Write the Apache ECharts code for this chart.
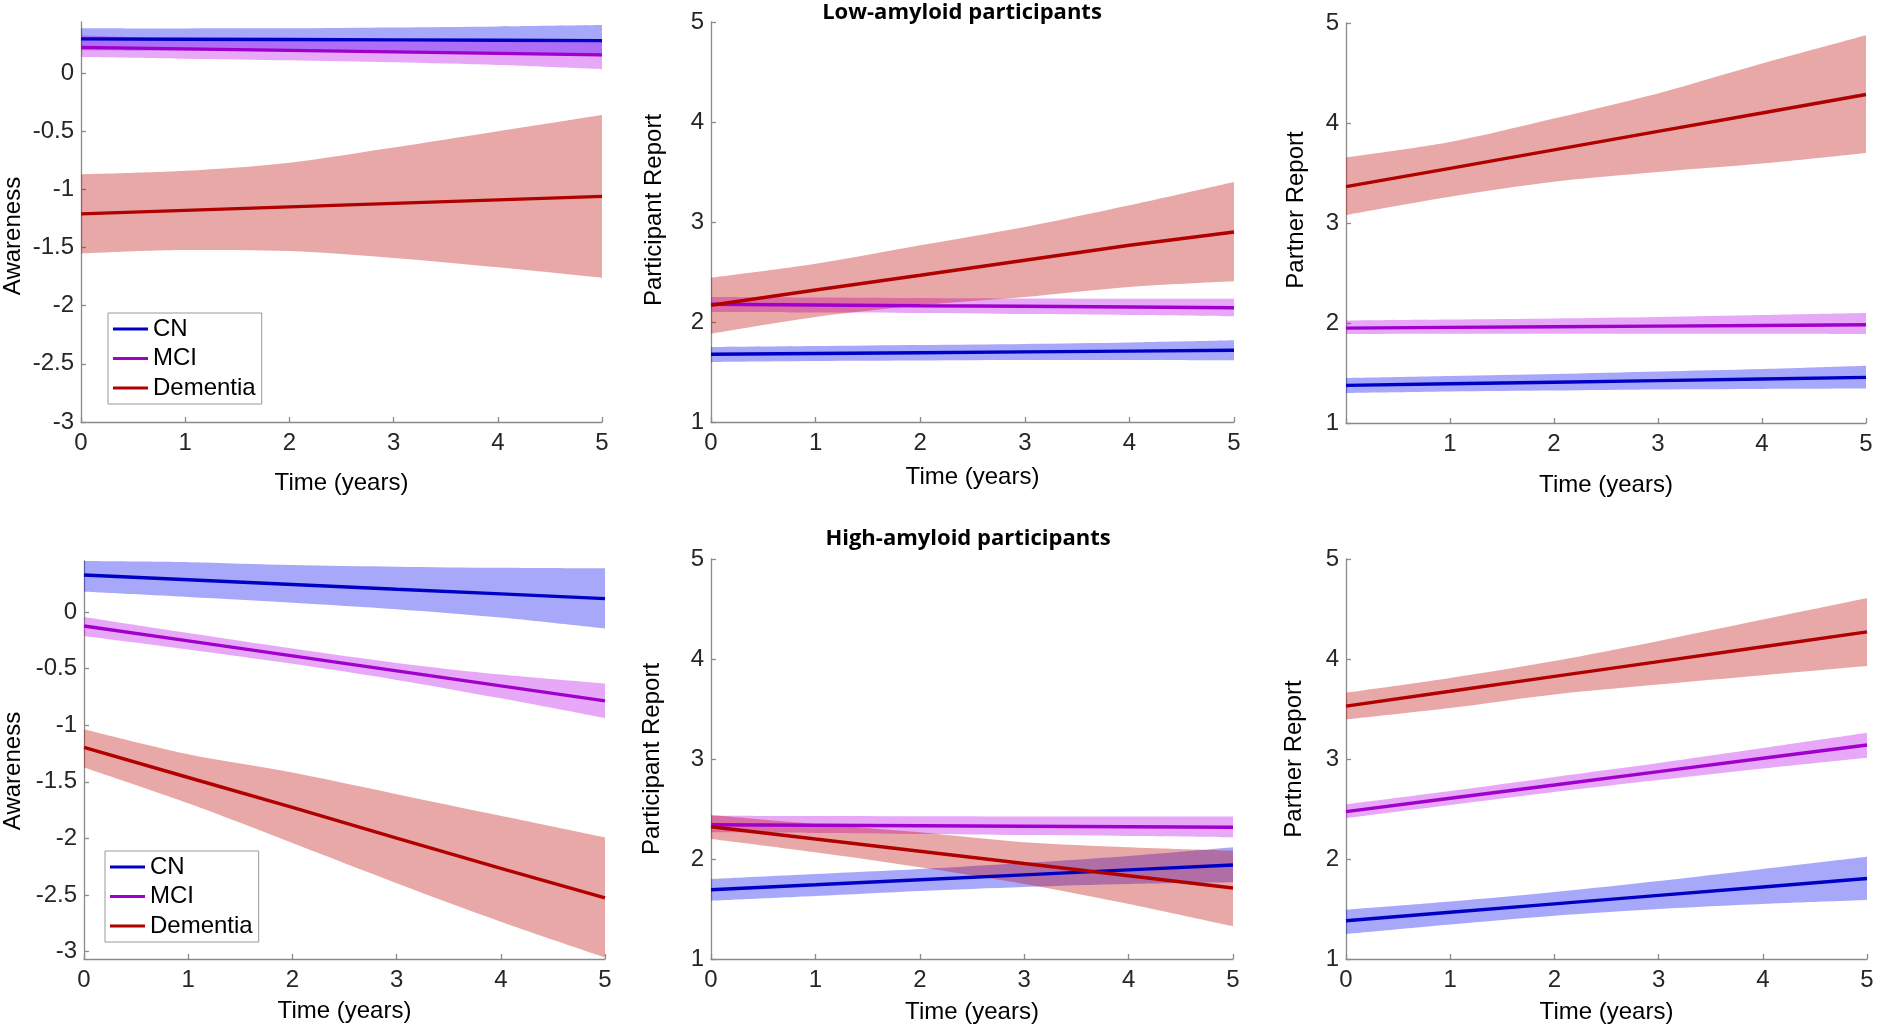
<!DOCTYPE html>
<html><head><meta charset="utf-8">
<script src="https://cdn.jsdelivr.net/npm/echarts@6/dist/echarts.min.js"></script>
<style>html,body{margin:0;padding:0;background:#fff}#c{width:1880px;height:1028px}</style>
</head><body><div id="c"></div>
<script>
// ---- data ----
const timeTicks = ['0', '1', '2', '3', '4', '5'];
const awarenessTicks = [-3, -2.5, -2, -1.5, -1, -0.5, 0];
const reportTicks = [1, 2, 3, 4, 5];
const groups = ['CN', 'MCI', 'Dementia'];
const panelTitles = ['Low-amyloid participants', 'High-amyloid participants'];

// Low-amyloid: Awareness
const lowAwCN      = [0.295, 0.292, 0.289, 0.286, 0.283, 0.280];
const lowAwCNLo    = [0.198, 0.195, 0.190, 0.178, 0.163, 0.146];
const lowAwCNHi    = [0.387, 0.385, 0.386, 0.393, 0.402, 0.414];
const lowAwMCI     = [0.222, 0.209, 0.196, 0.183, 0.170, 0.157];
const lowAwMCILo   = [0.140, 0.125, 0.111, 0.093, 0.070, 0.034];
const lowAwMCIHi   = [0.327, 0.294, 0.281, 0.273, 0.270, 0.280];
const lowAwDem     = [-1.21, -1.18, -1.15, -1.12, -1.09, -1.06];
const lowAwDemLo   = [-1.55, -1.52, -1.53, -1.59, -1.67, -1.76];
const lowAwDemHi   = [-0.87, -0.84, -0.77, -0.64, -0.50, -0.36];

// Low-amyloid: Participant Report
const lowPaCN      = [1.677, 1.685, 1.693, 1.701, 1.709, 1.717];
const lowPaCNLo    = [1.600, 1.610, 1.615, 1.620, 1.620, 1.617];
const lowPaCNHi    = [1.750, 1.760, 1.770, 1.780, 1.795, 1.817];
const lowPaMCI     = [2.177, 2.170, 2.163, 2.157, 2.150, 2.143];
const lowPaMCILo   = [2.100, 2.095, 2.090, 2.080, 2.070, 2.057];
const lowPaMCIHi   = [2.250, 2.245, 2.240, 2.235, 2.233, 2.233];
const lowPaDem     = [2.167, 2.320, 2.467, 2.617, 2.767, 2.900];
const lowPaDemLo   = [1.883, 2.050, 2.167, 2.250, 2.350, 2.407];
const lowPaDemHi   = [2.443, 2.583, 2.767, 2.950, 3.167, 3.400];

// Low-amyloid: Partner Report
const lowPrCN      = [1.376, 1.392, 1.408, 1.424, 1.440, 1.456];
const lowPrCNLo    = [1.300, 1.315, 1.325, 1.335, 1.340, 1.344];
const lowPrCNHi    = [1.450, 1.470, 1.490, 1.515, 1.540, 1.573];
const lowPrMCI     = [1.949, 1.956, 1.962, 1.969, 1.975, 1.982];
const lowPrMCILo   = [1.890, 1.892, 1.893, 1.893, 1.892, 1.890];
const lowPrMCIHi   = [2.025, 2.035, 2.045, 2.060, 2.080, 2.100];
const lowPrDem     = [3.363, 3.547, 3.731, 3.916, 4.100, 4.285];
const lowPrDemLo   = [3.080, 3.263, 3.413, 3.510, 3.594, 3.700];
const lowPrDemHi   = [3.656, 3.810, 4.045, 4.295, 4.594, 4.877];

// High-amyloid: Awareness
const highAwCN     = [0.326, 0.285, 0.243, 0.200, 0.160, 0.118];
const highAwCNLo   = [0.179, 0.133, 0.082, 0.024, -0.050, -0.147];
const highAwCNHi   = [0.450, 0.440, 0.415, 0.400, 0.390, 0.385];
const highAwMCI    = [-0.124, -0.256, -0.388, -0.520, -0.653, -0.785];
const highAwMCILo  = [-0.212, -0.331, -0.458, -0.600, -0.763, -0.938];
const highAwMCIHi  = [-0.044, -0.186, -0.323, -0.450, -0.553, -0.632];
const highAwDem    = [-1.197, -1.462, -1.726, -1.997, -2.265, -2.526];
const highAwDemLo  = [-1.374, -1.690, -2.040, -2.395, -2.735, -3.050];
const highAwDemHi  = [-1.035, -1.256, -1.418, -1.609, -1.800, -1.991];

// High-amyloid: Participant Report
const highPaCN     = [1.693, 1.742, 1.792, 1.841, 1.891, 1.940];
const highPaCNLo   = [1.583, 1.630, 1.680, 1.720, 1.750, 1.767];
const highPaCNHi   = [1.800, 1.850, 1.900, 1.960, 2.030, 2.117];
const highPaMCI    = [2.343, 2.338, 2.333, 2.327, 2.322, 2.317];
const highPaMCILo  = [2.267, 2.260, 2.250, 2.240, 2.230, 2.217];
const highPaMCIHi  = [2.433, 2.430, 2.428, 2.426, 2.424, 2.423];
const highPaDem    = [2.323, 2.200, 2.078, 1.955, 1.833, 1.710];
const highPaDemLo  = [2.200, 2.067, 1.917, 1.750, 1.550, 1.327];
const highPaDemHi  = [2.440, 2.350, 2.267, 2.167, 2.117, 2.083];

// High-amyloid: Partner Report
const highPrCN     = [1.383, 1.467, 1.551, 1.636, 1.720, 1.805];
const highPrCNLo   = [1.250, 1.345, 1.433, 1.500, 1.550, 1.589];
const highPrCNHi   = [1.493, 1.575, 1.670, 1.780, 1.900, 2.022];
const highPrMCI    = [2.474, 2.607, 2.740, 2.874, 3.007, 3.140];
const highPrMCILo  = [2.408, 2.540, 2.670, 2.790, 2.905, 3.013];
const highPrMCIHi  = [2.547, 2.680, 2.820, 2.960, 3.110, 3.263];
const highPrDem    = [3.529, 3.677, 3.826, 3.974, 4.123, 4.271];
const highPrDemLo  = [3.396, 3.510, 3.646, 3.745, 3.838, 3.930];
const highPrDemHi  = [3.662, 3.810, 3.980, 4.180, 4.394, 4.610];

// ---- styles ----
const lineColors = { CN: '#0000c4', MCI: '#a000cc', Dementia: '#b00000' };
const bandColors = { CN: 'rgba(0,0,240,0.34)', MCI: 'rgba(187,0,234,0.34)', Dementia: 'rgba(190,0,0,0.34)' };
const FONT = 'Liberation Sans';

const panels = [
  { grid: { left: 80, top: 22, width: 522, height: 400 }, yMin: -3, yMax: 0.44, yTicks: awarenessTicks, yName: 'Awareness', yGap: 56, xGap: 49, hideZero: false, namePad: [0, 28, 0, 0],
    sets: { CN: [lowAwCN, lowAwCNLo, lowAwCNHi], MCI: [lowAwMCI, lowAwMCILo, lowAwMCIHi], Dementia: [lowAwDem, lowAwDemLo, lowAwDemHi] } },
  { grid: { left: 711, top: 22, width: 523, height: 400 }, yMin: 1, yMax: 5, yTicks: reportTicks, yName: 'Participant Report', yGap: 45, xGap: 43, hideZero: false, namePad: [0, 0, 0, 24],
    sets: { CN: [lowPaCN, lowPaCNLo, lowPaCNHi], MCI: [lowPaMCI, lowPaMCILo, lowPaMCIHi], Dementia: [lowPaDem, lowPaDemLo, lowPaDemHi] } },
  { grid: { left: 1346, top: 23, width: 520, height: 400 }, yMin: 1, yMax: 5, yTicks: reportTicks, yName: 'Partner Report', yGap: 38, xGap: 50, hideZero: true, namePad: [0, 0, 0, 26],
    sets: { CN: [lowPrCN, lowPrCNLo, lowPrCNHi], MCI: [lowPrMCI, lowPrMCILo, lowPrMCIHi], Dementia: [lowPrDem, lowPrDemLo, lowPrDemHi] } },
  { grid: { left: 83, top: 561, width: 522, height: 398 }, yMin: -3.065, yMax: 0.45, yTicks: awarenessTicks, yName: 'Awareness', yGap: 59, xGap: 40, hideZero: false, namePad: [0, 22, 0, 0],
    sets: { CN: [highAwCN, highAwCNLo, highAwCNHi], MCI: [highAwMCI, highAwMCILo, highAwMCIHi], Dementia: [highAwDem, highAwDemLo, highAwDemHi] } },
  { grid: { left: 711, top: 559, width: 522, height: 400 }, yMin: 1, yMax: 5, yTicks: reportTicks, yName: 'Participant Report', yGap: 47, xGap: 41, hideZero: false, namePad: [0, 0, 0, 0],
    sets: { CN: [highPaCN, highPaCNLo, highPaCNHi], MCI: [highPaMCI, highPaMCILo, highPaMCIHi], Dementia: [highPaDem, highPaDemLo, highPaDemHi] } },
  { grid: { left: 1346, top: 559, width: 521, height: 400 }, yMin: 1, yMax: 5, yTicks: reportTicks, yName: 'Partner Report', yGap: 40, xGap: 41, hideZero: false, namePad: [0, 0, 0, 0],
    sets: { CN: [highPrCN, highPrCNLo, highPrCNHi], MCI: [highPrMCI, highPrMCILo, highPrMCIHi], Dementia: [highPrDem, highPrDemLo, highPrDemHi] } }
];

const axisLineStyle = { color: '#8a8a8a', width: 1.3 };
const grids = [], xAxes = [], yAxes = [], series = [];

panels.forEach((p, pi) => {
  grids.push(Object.assign({ containLabel: false }, p.grid));
  xAxes.push({
    type: 'category', gridIndex: pi, data: timeTicks, boundaryGap: false,
    name: 'Time (years)', nameLocation: 'middle', nameGap: p.xGap,
    nameTextStyle: { fontFamily: FONT, fontSize: 24, color: '#000' },
    axisLine: { show: true, onZero: false, lineStyle: axisLineStyle },
    axisTick: { show: true, inside: true, length: 5, alignWithLabel: true, lineStyle: axisLineStyle },
    axisLabel: { margin: 9, fontFamily: FONT, fontSize: 24, color: '#262626', interval: 0,
      formatter: v => (p.hideZero && v === '0') ? '' : v },
    splitLine: { show: false }
  });
  yAxes.push({
    type: 'value', gridIndex: pi, min: p.yMin, max: p.yMax,
    name: p.yName, nameLocation: 'middle', nameGap: p.yGap, nameRotate: 90,
    nameTextStyle: { fontFamily: FONT, fontSize: 24, color: '#000', padding: p.namePad },
    axisLine: { show: true, onZero: false, lineStyle: axisLineStyle },
    axisTick: { show: true, inside: true, length: 5, lineStyle: axisLineStyle, customValues: p.yTicks },
    axisLabel: { margin: 7, fontFamily: FONT, fontSize: 24, color: '#262626', customValues: p.yTicks },
    splitLine: { show: false }
  });
  // confidence bands first (lower bound + band width, stacked)
  groups.forEach(g => {
    const [mid, lo, hi] = p.sets[g];
    const stack = 'p' + pi + g;
    series.push({
      type: 'line', name: g + ' lower', xAxisIndex: pi, yAxisIndex: pi, stack, stackStrategy: 'all',
      data: lo.slice(), symbol: 'none', smooth: 0.3, silent: true,
      lineStyle: { opacity: 0 }, z: 1
    });
    series.push({
      type: 'line', name: g + ' band', xAxisIndex: pi, yAxisIndex: pi, stack, stackStrategy: 'all',
      data: hi.map((h, i) => h - lo[i]), symbol: 'none', smooth: 0.3, silent: true,
      lineStyle: { opacity: 0 }, areaStyle: { color: bandColors[g], opacity: 1 }, z: 1
    });
  });
  groups.forEach(g => {
    const [mid] = p.sets[g];
    series.push({
      type: 'line', name: g, xAxisIndex: pi, yAxisIndex: pi,
      data: mid.slice(), symbol: 'none', silent: true,
      color: lineColors[g], itemStyle: { color: lineColors[g] },
      lineStyle: { color: lineColors[g], width: 3.4 }, z: 3
    });
  });
});

const legendBase = {
  orient: 'vertical', data: groups, icon: 'rect', itemWidth: 35, itemHeight: 3, itemGap: 5.5,
  padding: [4, 6, 4, 5], borderColor: '#999', borderWidth: 1, backgroundColor: '#fff',
  selectedMode: false, textStyle: { fontFamily: FONT, fontSize: 24, color: '#000', lineHeight: 24 }
};

const chart = echarts.init(document.getElementById('c'), null, { renderer: 'canvas' });
chart.setOption({
  animation: false,
  backgroundColor: '#fff',
  grid: grids, xAxis: xAxes, yAxis: yAxes, series,
  legend: [
    Object.assign({ left: 108, top: 313 }, legendBase),
    Object.assign({ left: 105, top: 851 }, legendBase)
  ],
  graphic: [
    { type: 'text', x: 962, y: 13, style: { text: panelTitles[0], font: 'bold 22px "Open Sans"', fill: '#000', align: 'center', verticalAlign: 'middle' } },
    { type: 'text', x: 968, y: 539, style: { text: panelTitles[1], font: 'bold 22px "Open Sans"', fill: '#000', align: 'center', verticalAlign: 'middle' } }
  ]
});
</script></body></html>
